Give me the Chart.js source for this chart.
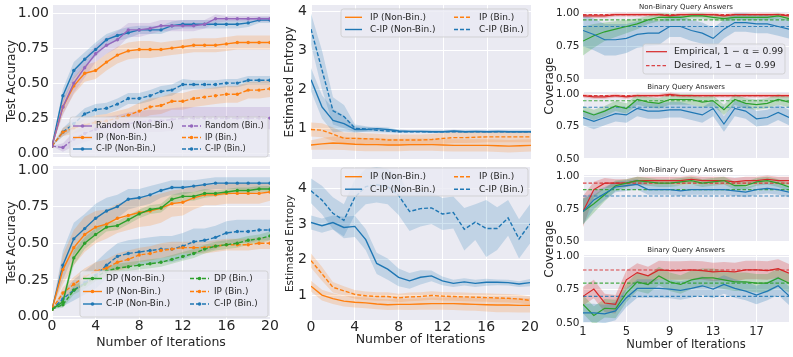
<!DOCTYPE html>
<html>
<head>
<meta charset="utf-8">
<script src="https://cdn.jsdelivr.net/npm/chart.js@4.4.1/dist/chart.umd.min.js"></script>
<style>
  html, body { margin: 0; padding: 0; background: #fff; }
  #fig { position: relative; width: 793px; height: 357px; overflow: hidden; font-family: "DejaVu Sans", sans-serif; }
  #fig canvas { position: absolute; }
  .ylab { position: absolute; transform: translate(-50%, -50%) rotate(-90deg); font-size: 12px; color: #262626; white-space: nowrap; }
</style>
</head>
<body>
<div id="fig"></div>
<script>
// x values and ticks
const ITERS = [0,1,2,3,4,5,6,7,8,9,10,11,12,13,14,15,16,17,18,19,20];
const COV_ITERS = [1,2,3,4,5,6,7,8,9,10,11,12,13,14,15,16,17,18,19,20];
const ITER_TICKS = [0,4,8,12,16,20];
const COV_ITER_TICKS = [1,5,9,13,17];
const ACC_TICKS = [0,0.25,0.5,0.75,1];
const ENT_TICKS = [1,2,3,4];
const COV_TICKS = [0.5,0.75,1];

// legend labels
const ACC_TOP_NAMES = ['Random (Non-Bin.)','Random (Bin.)','IP (Non-Bin.)','IP (Bin.)','C-IP (Non-Bin.)','C-IP (Bin.)'];
const ACC_BOT_NAMES = ['DP (Non-Bin.)','DP (Bin.)','IP (Non-Bin.)','IP (Bin.)','C-IP (Non-Bin.)','C-IP (Bin.)'];
const ENT_NAMES = ['IP (Non-Bin.)','IP (Bin.)','C-IP (Non-Bin.)','C-IP (Bin.)'];
const COV_NAMES = ['Empirical, 1 \u2212 \u03b1 = 0.99','Desired, 1 \u2212 \u03b1 = 0.99'];
const COV_TITLES = ['Non-Binary Query Answers','Binary Query Answers'];

// test accuracy, top panel (mean, band half-width)
const ACC1_RANDOM_NB = [0.05,0.33,0.50,0.61,0.71,0.77,0.81,0.88,0.88,0.89,0.91,0.91,0.91,0.91,0.92,0.96,0.96,0.96,0.96,0.96,0.96];
const ACC1_RANDOM_NB_SD = [0,0.06,0.07,0.07,0.06,0.06,0.06,0.05,0.05,0.04,0.04,0.04,0.04,0.04,0.03,0.03,0.02,0.02,0.02,0.02,0.02];
const ACC1_IP_NB = [0.05,0.33,0.48,0.57,0.59,0.65,0.70,0.73,0.74,0.74,0.74,0.75,0.76,0.77,0.77,0.77,0.78,0.79,0.79,0.79,0.79];
const ACC1_IP_NB_SD = [0,0.05,0.06,0.06,0.06,0.06,0.06,0.06,0.06,0.06,0.05,0.05,0.05,0.05,0.05,0.05,0.05,0.05,0.05,0.05,0.05];
const ACC1_CIP_NB = [0.05,0.41,0.59,0.67,0.74,0.81,0.84,0.86,0.88,0.88,0.88,0.91,0.92,0.92,0.92,0.92,0.92,0.92,0.93,0.95,0.95];
const ACC1_CIP_NB_SD = [0,0.05,0.06,0.05,0.05,0.04,0.04,0.04,0.03,0.03,0.03,0.03,0.03,0.03,0.03,0.03,0.03,0.03,0.03,0.02,0.02];
const ACC1_RANDOM_B = [0.05,0.04,0.10,0.14,0.17,0.19,0.20,0.21,0.22,0.23,0.23,0.24,0.25,0.25,0.25,0.25,0.25,0.25,0.25,0.25,0.25];
const ACC1_RANDOM_B_SD = [0,0.03,0.05,0.06,0.07,0.07,0.07,0.08,0.08,0.08,0.08,0.08,0.08,0.08,0.08,0.08,0.08,0.08,0.08,0.08,0.08];
const ACC1_IP_B = [0.05,0.15,0.18,0.20,0.22,0.23,0.25,0.27,0.30,0.33,0.34,0.37,0.37,0.39,0.40,0.41,0.42,0.42,0.45,0.45,0.46];
const ACC1_IP_B_SD = [0,0.03,0.04,0.04,0.05,0.05,0.05,0.05,0.06,0.06,0.06,0.06,0.06,0.06,0.06,0.06,0.06,0.06,0.06,0.06,0.06];
const ACC1_CIP_B = [0.05,0.15,0.21,0.28,0.31,0.32,0.35,0.39,0.39,0.41,0.44,0.45,0.49,0.49,0.49,0.49,0.50,0.50,0.52,0.52,0.52];
const ACC1_CIP_B_SD = [0,0.03,0.04,0.04,0.04,0.04,0.04,0.04,0.04,0.04,0.04,0.04,0.04,0.03,0.03,0.03,0.03,0.03,0.03,0.03,0.03];

// test accuracy, bottom panel
const ACC2_DP_NB = [0.05,0.10,0.40,0.50,0.56,0.61,0.62,0.66,0.70,0.73,0.74,0.80,0.82,0.82,0.84,0.84,0.85,0.86,0.86,0.87,0.87];
const ACC2_DP_NB_SD = [0,0.02,0.05,0.04,0.04,0.03,0.03,0.03,0.03,0.03,0.03,0.03,0.03,0.03,0.03,0.02,0.02,0.02,0.02,0.02,0.02];
const ACC2_IP_NB = [0.05,0.32,0.47,0.56,0.61,0.63,0.67,0.69,0.71,0.72,0.74,0.77,0.78,0.81,0.83,0.83,0.84,0.84,0.84,0.84,0.85];
const ACC2_IP_NB_SD = [0,0.10,0.12,0.12,0.11,0.10,0.10,0.10,0.10,0.10,0.10,0.09,0.09,0.08,0.07,0.07,0.07,0.07,0.07,0.07,0.06];
const ACC2_CIP_NB = [0.05,0.35,0.53,0.60,0.67,0.72,0.75,0.80,0.81,0.83,0.86,0.88,0.88,0.89,0.90,0.91,0.91,0.91,0.91,0.91,0.91];
const ACC2_CIP_NB_SD = [0,0.10,0.11,0.10,0.10,0.09,0.08,0.07,0.06,0.06,0.05,0.05,0.05,0.04,0.04,0.04,0.04,0.04,0.04,0.04,0.04];
const ACC2_DP_B = [0.05,0.08,0.18,0.22,0.27,0.31,0.33,0.34,0.35,0.36,0.37,0.39,0.41,0.43,0.46,0.48,0.49,0.50,0.52,0.53,0.55];
const ACC2_DP_B_SD = [0,0.02,0.03,0.03,0.03,0.03,0.03,0.03,0.03,0.03,0.03,0.03,0.03,0.03,0.03,0.03,0.03,0.03,0.03,0.03,0.03];
const ACC2_IP_B = [0.05,0.16,0.22,0.27,0.31,0.33,0.37,0.39,0.42,0.43,0.45,0.46,0.47,0.47,0.47,0.48,0.49,0.49,0.49,0.50,0.50];
const ACC2_IP_B_SD = [0,0.04,0.05,0.06,0.06,0.06,0.06,0.06,0.05,0.05,0.05,0.05,0.04,0.04,0.04,0.04,0.04,0.04,0.04,0.04,0.04];
const ACC2_CIP_B = [0.05,0.12,0.18,0.23,0.28,0.35,0.41,0.43,0.44,0.45,0.46,0.46,0.48,0.51,0.52,0.54,0.57,0.58,0.58,0.59,0.59];
const ACC2_CIP_B_SD = [0,0.05,0.07,0.08,0.09,0.09,0.09,0.09,0.09,0.09,0.09,0.09,0.09,0.09,0.08,0.08,0.08,0.08,0.08,0.07,0.07];

// estimated entropy, top panel
const ENT1_IP_NB = [0.57,0.60,0.62,0.61,0.59,0.58,0.58,0.57,0.57,0.58,0.58,0.58,0.57,0.56,0.56,0.56,0.56,0.55,0.54,0.55,0.56];
const ENT1_IP_NB_SD = [0.12,0.15,0.17,0.17,0.17,0.17,0.17,0.16,0.16,0.16,0.16,0.16,0.16,0.16,0.16,0.16,0.16,0.16,0.16,0.16,0.16];
const ENT1_IP_B = [0.97,0.95,0.85,0.74,0.74,0.73,0.72,0.70,0.70,0.70,0.70,0.71,0.74,0.76,0.76,0.77,0.78,0.78,0.78,0.78,0.78];
const ENT1_IP_B_SD = [0.18,0.18,0.17,0.15,0.15,0.14,0.14,0.14,0.14,0.14,0.14,0.14,0.14,0.14,0.14,0.14,0.14,0.14,0.14,0.14,0.14];
const ENT1_CIP_NB = [2.25,1.55,1.20,1.12,0.97,0.97,0.99,0.97,0.93,0.92,0.92,0.91,0.91,0.93,0.91,0.92,0.91,0.92,0.91,0.91,0.91];
const ENT1_CIP_NB_SD = [0.30,0.30,0.30,0.20,0.08,0.06,0.05,0.05,0.04,0.03,0.03,0.03,0.03,0.03,0.03,0.03,0.03,0.03,0.03,0.03,0.03];
const ENT1_CIP_B = [3.55,2.50,1.45,1.30,1.00,0.98,0.95,0.93,0.91,0.91,0.91,0.91,0.91,0.91,0.91,0.91,0.91,0.91,0.91,0.91,0.91];
const ENT1_CIP_B_SD = [0.40,0.50,0.35,0.30,0.10,0.07,0.05,0.04,0.03,0.03,0.03,0.03,0.03,0.03,0.03,0.03,0.03,0.03,0.03,0.03,0.03];

// estimated entropy, bottom panel
const ENT2_IP_NB = [1.25,1.00,0.90,0.83,0.80,0.78,0.75,0.73,0.74,0.74,0.75,0.76,0.76,0.76,0.75,0.74,0.73,0.72,0.72,0.71,0.71];
const ENT2_IP_NB_SD = [0.15,0.15,0.15,0.15,0.15,0.15,0.15,0.15,0.15,0.16,0.16,0.17,0.17,0.18,0.18,0.18,0.19,0.20,0.20,0.20,0.20];
const ENT2_IP_B = [1.97,1.60,1.22,1.12,1.02,0.98,0.96,0.96,0.92,0.95,0.96,0.99,0.97,0.96,0.95,0.94,0.93,0.92,0.91,0.89,0.85];
const ENT2_IP_B_SD = [0.20,0.20,0.15,0.13,0.12,0.12,0.12,0.12,0.12,0.12,0.12,0.12,0.12,0.12,0.12,0.12,0.12,0.12,0.12,0.12,0.12];
const ENT2_CIP_NB = [3.04,2.95,3.04,2.90,2.93,2.56,1.89,1.73,1.50,1.40,1.50,1.54,1.40,1.33,1.37,1.33,1.36,1.36,1.35,1.31,1.35];
const ENT2_CIP_NB_SD = [0.20,0.20,0.20,0.30,0.30,0.30,0.30,0.30,0.25,0.22,0.20,0.15,0.12,0.10,0.10,0.10,0.10,0.08,0.08,0.08,0.10];
const ENT2_CIP_B = [3.93,3.67,3.30,3.10,3.75,4.05,4.10,4.05,3.80,3.35,3.43,3.45,3.28,3.32,2.85,3.05,2.87,2.87,3.17,2.58,3.00];
const ENT2_CIP_B_SD = [0.35,0.40,0.45,0.45,0.50,0.50,0.50,0.50,0.55,0.55,0.50,0.45,0.45,0.45,0.60,0.50,0.80,0.60,0.50,0.55,0.55];

// coverage: red / green / blue empirical curves, and desired levels (red, green, blue)
const COV1_RED = [0.98,0.98,0.98,0.99,0.99,0.99,0.99,0.99,0.98,0.99,0.99,0.99,0.99,0.98,0.99,0.99,0.99,0.99,0.99,0.98];
const COV1_GREEN = [0.79,0.83,0.86,0.88,0.90,0.92,0.95,0.97,0.97,0.97,0.98,0.98,0.97,0.96,0.97,0.97,0.97,0.97,0.98,0.96];
const COV1_GREEN_SD = [0.11,0.09,0.07,0.06,0.05,0.04,0.03,0.03,0.03,0.02,0.02,0.02,0.02,0.02,0.02,0.02,0.02,0.02,0.02,0.02];
const COV1_BLUE = [0.87,0.84,0.80,0.80,0.81,0.84,0.85,0.85,0.90,0.90,0.87,0.85,0.81,0.88,0.93,0.93,0.92,0.92,0.90,0.88];
const COV1_BLUE_SD = [0.12,0.12,0.12,0.12,0.11,0.10,0.10,0.09,0.08,0.08,0.08,0.08,0.08,0.07,0.07,0.07,0.07,0.07,0.07,0.07];
const COV2_RED = [0.99,0.98,0.98,0.99,0.98,0.99,0.99,0.99,1.00,0.99,0.99,0.99,0.99,0.99,0.99,0.99,0.99,0.99,0.99,0.99];
const COV2_GREEN = [0.87,0.84,0.87,0.91,0.89,0.96,0.94,0.93,0.96,0.96,0.96,0.94,0.95,0.88,0.96,0.93,0.92,0.93,0.96,0.94];
const COV2_BLUE = [0.82,0.79,0.82,0.85,0.84,0.89,0.87,0.87,0.88,0.88,0.86,0.84,0.89,0.77,0.89,0.87,0.81,0.82,0.86,0.82];
const COV3_RED = [0.73,0.90,0.95,0.95,0.95,0.97,0.97,0.97,0.97,0.97,0.98,0.97,0.97,0.97,0.96,0.97,0.97,0.98,0.97,0.97];
const COV3_RED_SD = [0.12,0.06,0.04,0.03,0.03,0.03,0.03,0.03,0.03,0.03,0.03,0.03,0.03,0.03,0.03,0.03,0.03,0.03,0.03,0.03];
const COV3_GREEN = [0.73,0.79,0.86,0.93,0.95,0.97,0.96,0.95,0.95,0.96,0.97,0.95,0.96,0.97,0.93,0.93,0.96,0.97,0.95,0.92];
const COV3_GREEN_SD = [0.10,0.07,0.05,0.04,0.03,0.03,0.03,0.03,0.03,0.03,0.03,0.03,0.03,0.03,0.03,0.03,0.03,0.03,0.03,0.03];
const COV3_BLUE = [0.73,0.82,0.87,0.92,0.93,0.94,0.90,0.90,0.90,0.89,0.90,0.90,0.90,0.90,0.89,0.88,0.90,0.91,0.90,0.88];
const COV3_BLUE_SD = [0.10,0.07,0.05,0.04,0.04,0.04,0.04,0.04,0.04,0.04,0.04,0.04,0.04,0.04,0.04,0.04,0.04,0.04,0.04,0.04];
const COV4_RED = [0.70,0.755,0.65,0.64,0.825,0.88,0.855,0.90,0.895,0.895,0.90,0.895,0.885,0.89,0.885,0.90,0.90,0.895,0.91,0.875];
const COV4_GREEN = [0.64,0.555,0.61,0.605,0.725,0.81,0.79,0.855,0.81,0.79,0.825,0.84,0.84,0.825,0.81,0.81,0.80,0.80,0.84,0.80];
const COV4_BLUE = [0.575,0.575,0.567,0.59,0.69,0.76,0.76,0.76,0.755,0.745,0.76,0.78,0.755,0.79,0.76,0.74,0.71,0.74,0.78,0.705];
const COV_TOP_DESIRED = [0.99,0.95,0.90];
const COV_BOT_NB_DESIRED = [0.95,0.90,0.85];
const COV_BOT_B_DESIRED = [0.90,0.80,0.70];

const FONT = '"DejaVu Sans", sans-serif';
const INK = '#262626';
const C = { blue:'#1f77b4', orange:'#ff7f0e', green:'#2ca02c', red:'#d62728', purple:'#9467bd' };
Chart.defaults.font.family = FONT;
Chart.defaults.color = INK;

const fig = document.getElementById('fig');

function rgba(hex, a){
  const n = parseInt(hex.slice(1), 16);
  return `rgba(${n >> 16},${(n >> 8) & 255},${n & 255},${a})`;
}
function pts(xs, ys){ return ys.map((y, i) => ({ x: xs[i], y })); }

// band (lower, upper filled) + mean line
function bandLine(xs, ys, sd, color, st){
  const s = Array.isArray(sd) ? sd : ys.map(() => sd);
  return [
    { data: pts(xs, ys.map((y, i) => y - s[i])), borderWidth: 0, pointRadius: 0, fill: false, order: 10 },
    { data: pts(xs, ys.map((y, i) => y + s[i])), borderWidth: 0, pointRadius: 0, fill: '-1',
      backgroundColor: rgba(color, st.alpha || 0.2), order: 10 },
    { data: pts(xs, ys), borderColor: color, borderWidth: st.lw || 1.4, borderDash: st.dash ? [4, 2] : [],
      pointRadius: st.marker ? 1.7 : 0, pointBorderWidth: 0, pointBackgroundColor: color,
      fill: false, order: 0 }
  ];
}
function desiredLine(level, color){
  return { data: pts(COV_ITERS, COV_ITERS.map(() => level)), borderColor: rgba(color, 0.85), borderWidth: 1.1,
    borderDash: [3.5, 2], pointRadius: 0, fill: false, order: 1 };
}

function drawLegend(ctx, L){
  ctx.save();
  ctx.beginPath();
  ctx.roundRect(L.x, L.y, L.w, L.h, 2.5);
  ctx.fillStyle = 'rgba(234,234,242,0.8)';
  ctx.fill();
  ctx.strokeStyle = 'rgba(204,204,204,0.8)';
  ctx.lineWidth = 1;
  ctx.stroke();
  ctx.font = L.size + 'px ' + FONT;
  ctx.textBaseline = 'middle';
  L.items.forEach(it => {
    const c = L.cols[it.col], y = L.rows[it.row];
    ctx.strokeStyle = it.color;
    ctx.lineWidth = L.lw || 1.4;
    ctx.setLineDash(it.dash ? (L.dashPat || [4, 2]) : []);
    ctx.beginPath(); ctx.moveTo(c[0], y); ctx.lineTo(c[1], y); ctx.stroke();
    ctx.setLineDash([]);
    if (it.marker){
      ctx.fillStyle = it.color;
      ctx.beginPath(); ctx.arc((c[0] + c[1]) / 2, y, 1.8, 0, Math.PI * 2); ctx.fill();
    }
    ctx.fillStyle = INK;
    ctx.fillText(it.label, c[2], y);
  });
  ctx.restore();
}

// g: canvas box (cx,cy,cw,ch) and plot box (pl,pt,pr,pb) in page pixels
function panel(g, datasets, ax, deco){
  const cv = document.createElement('canvas');
  cv.width = g.cw; cv.height = g.ch;
  cv.style.left = g.cx + 'px'; cv.style.top = g.cy + 'px';
  fig.appendChild(cv);
  const yW = g.pl - g.cx, xH = g.cy + g.ch - g.pb;
  const plug = {
    id: 'deco',
    beforeDraw(chart){
      const a = chart.chartArea, ctx = chart.ctx;
      ctx.save(); ctx.fillStyle = '#eaeaf2';
      ctx.fillRect(a.left, a.top, a.right - a.left, a.bottom - a.top); ctx.restore();
    },
    afterDraw(chart){
      const ctx = chart.ctx, a = chart.chartArea;
      ctx.save();
      ctx.translate(-g.cx, -g.cy);
      if (deco && deco.legend) drawLegend(ctx, deco.legend);
      ctx.restore();
      if (deco && deco.title){
        ctx.save();
        ctx.font = '7px ' + FONT; ctx.fillStyle = INK;
        ctx.textAlign = 'center'; ctx.textBaseline = 'bottom';
        ctx.fillText(deco.title, (a.left + a.right) / 2, a.top - 1.5);
        ctx.restore();
      }
    }
  };
  return new Chart(cv, {
    type: 'line',
    data: { datasets },
    options: {
      responsive: false, animation: false, events: [],
      layout: { padding: { left: 0, top: g.pt - g.cy, right: g.cx + g.cw - g.pr, bottom: 0 } },
      plugins: { legend: { display: false }, tooltip: { enabled: false } },
      elements: { line: { tension: 0 } },
      scales: {
        x: {
          type: 'linear', min: ax.xmin, max: ax.xmax,
          afterBuildTicks: s => { s.ticks = ax.xticks.map(v => ({ value: v })); },
          afterFit: s => { s.height = xH; s.paddingLeft = 0; s.paddingRight = 0; },
          grid: { color: '#ffffff', lineWidth: 1, drawTicks: false },
          border: { display: false },
          ticks: { display: !!ax.xTick, font: { size: ax.xTick || 10 }, color: INK, padding: ax.xTickPad || 0,
                   maxRotation: 0, autoSkip: false },
          title: { display: !!ax.xTitle, text: ax.xTitle || '', font: { size: ax.xTitleSize || 12 }, color: INK,
                   padding: { top: 0, bottom: ax.xTitlePad || 0 } }
        },
        y: {
          type: 'linear', min: ax.ymin, max: ax.ymax,
          afterBuildTicks: s => { s.ticks = ax.yticks.map(v => ({ value: v })); },
          afterFit: s => { s.width = yW; s.paddingTop = 0; s.paddingBottom = 0; },
          grid: { color: '#ffffff', lineWidth: 1, drawTicks: false },
          border: { display: false },
          ticks: { font: { size: ax.yTick }, color: INK, padding: ax.yTickPad,
                   callback: v => ax.yDigits ? v.toFixed(ax.yDigits) : String(v) },
          title: { display: !!ax.yTitle, text: ax.yTitle || '', font: { size: ax.yTitleSize || 12 }, color: INK,
                   padding: { top: ax.yTitlePad || 0, bottom: 0 } }
        }
      }
    },
    plugins: [plug]
  });
}

// ---------- test accuracy (left column) ----------
const accAxis = { xmin: 0, xmax: 20, xticks: ITER_TICKS, yticks: ACC_TICKS, yTick: 14, yTickPad: 3, yDigits: 2,
  yTitle: 'Test Accuracy', yTitleSize: 12, yTitlePad: 4.8 };

panel({ cx: 0, cy: 0, cw: 274, ch: 163, pl: 52, pt: 5, pr: 270, pb: 157 }, [
  ...bandLine(ITERS, ACC1_RANDOM_NB, ACC1_RANDOM_NB_SD, C.purple, { marker: true }),
  ...bandLine(ITERS, ACC1_IP_NB, ACC1_IP_NB_SD, C.orange, { marker: true }),
  ...bandLine(ITERS, ACC1_CIP_NB, ACC1_CIP_NB_SD, C.blue, { marker: true }),
  ...bandLine(ITERS, ACC1_RANDOM_B, ACC1_RANDOM_B_SD, C.purple, { marker: true, dash: true }),
  ...bandLine(ITERS, ACC1_IP_B, ACC1_IP_B_SD, C.orange, { marker: true, dash: true }),
  ...bandLine(ITERS, ACC1_CIP_B, ACC1_CIP_B_SD, C.blue, { marker: true, dash: true })
], Object.assign({}, accAxis, { ymin: -0.028, ymax: 1.058 }), {
  legend: { x: 70, y: 117, w: 198, h: 40, size: 8.2, rows: [126, 137.5, 149],
    cols: [[73, 92, 96], [182, 201, 205]],
    items: [
      { col: 0, row: 0, label: ACC_TOP_NAMES[0], color: C.purple, marker: true },
      { col: 1, row: 0, label: ACC_TOP_NAMES[1], color: C.purple, marker: true, dash: true },
      { col: 0, row: 1, label: ACC_TOP_NAMES[2], color: C.orange, marker: true },
      { col: 1, row: 1, label: ACC_TOP_NAMES[3], color: C.orange, marker: true, dash: true },
      { col: 0, row: 2, label: ACC_TOP_NAMES[4], color: C.blue, marker: true },
      { col: 1, row: 2, label: ACC_TOP_NAMES[5], color: C.blue, marker: true, dash: true }
    ] }
});

panel({ cx: 0, cy: 161, cw: 282, ch: 196, pl: 52, pt: 166, pr: 270, pb: 319 }, [
  ...bandLine(ITERS, ACC2_DP_NB, ACC2_DP_NB_SD, C.green, { marker: true }),
  ...bandLine(ITERS, ACC2_IP_NB, ACC2_IP_NB_SD, C.orange, { marker: true }),
  ...bandLine(ITERS, ACC2_CIP_NB, ACC2_CIP_NB_SD, C.blue, { marker: true }),
  ...bandLine(ITERS, ACC2_DP_B, ACC2_DP_B_SD, C.green, { marker: true, dash: true }),
  ...bandLine(ITERS, ACC2_IP_B, ACC2_IP_B_SD, C.orange, { marker: true, dash: true }),
  ...bandLine(ITERS, ACC2_CIP_B, ACC2_CIP_B_SD, C.blue, { marker: true, dash: true })
], Object.assign({}, accAxis, { ymin: -0.017, ymax: 1.027, xTick: 14, xTickPad: -1,
  xTitle: 'Number of Iterations', xTitleSize: 12.5, xTitlePad: 6.5 }), {
  legend: { x: 80, y: 271, w: 188, h: 46, size: 8.8, rows: [278.5, 291.5, 304],
    cols: [[83, 102, 106], [190, 209, 214]],
    items: [
      { col: 0, row: 0, label: ACC_BOT_NAMES[0], color: C.green, marker: true },
      { col: 1, row: 0, label: ACC_BOT_NAMES[1], color: C.green, marker: true, dash: true },
      { col: 0, row: 1, label: ACC_BOT_NAMES[2], color: C.orange, marker: true },
      { col: 1, row: 1, label: ACC_BOT_NAMES[3], color: C.orange, marker: true, dash: true },
      { col: 0, row: 2, label: ACC_BOT_NAMES[4], color: C.blue, marker: true },
      { col: 1, row: 2, label: ACC_BOT_NAMES[5], color: C.blue, marker: true, dash: true }
    ] }
});

// ---------- estimated entropy (middle column) ----------
const entAxis = { xmin: 0, xmax: 20, xticks: ITER_TICKS, yticks: ENT_TICKS, yTick: 14, yTickPad: 4 };
function entLegend(y, rows){
  return { x: 341, y: y, w: 187, h: 28, size: 9, rows: rows, lw: 1.4,
    cols: [[345, 362, 370], [454, 471, 479]],
    items: [
      { col: 0, row: 0, label: ENT_NAMES[0], color: C.orange },
      { col: 1, row: 0, label: ENT_NAMES[1], color: C.orange, dash: true },
      { col: 0, row: 1, label: ENT_NAMES[2], color: C.blue },
      { col: 1, row: 1, label: ENT_NAMES[3], color: C.blue, dash: true }
    ] };
}

panel({ cx: 272, cy: 0, cw: 264, ch: 164, pl: 311, pt: 5, pr: 531, pb: 159 }, [
  ...bandLine(ITERS, ENT1_IP_NB, ENT1_IP_NB_SD, C.orange, {}),
  ...bandLine(ITERS, ENT1_CIP_NB, ENT1_CIP_NB_SD, C.blue, {}),
  ...bandLine(ITERS, ENT1_IP_B, ENT1_IP_B_SD, C.orange, { dash: true }),
  ...bandLine(ITERS, ENT1_CIP_B, ENT1_CIP_B_SD, C.blue, { dash: true })
], Object.assign({}, entAxis, { ymin: 0.21, ymax: 4.17, yTitle: 'Estimated Entropy', yTitleSize: 12, yTitlePad: 11 }),
{ legend: entLegend(9, [17.3, 29.5]) });

panel({ cx: 272, cy: 161, cw: 270, ch: 196, pl: 311, pt: 167, pr: 530, pb: 320 }, [
  ...bandLine(ITERS, ENT2_IP_NB, ENT2_IP_NB_SD, C.orange, {}),
  ...bandLine(ITERS, ENT2_CIP_NB, ENT2_CIP_NB_SD, C.blue, {}),
  ...bandLine(ITERS, ENT2_IP_B, ENT2_IP_B_SD, C.orange, { dash: true }),
  ...bandLine(ITERS, ENT2_CIP_B, ENT2_CIP_B_SD, C.blue, { dash: true })
], Object.assign({}, entAxis, { ymin: 0.30, ymax: 4.60, yTitle: 'Estimated Entropy', yTitleSize: 10.5, yTitlePad: 11.7,
  xTick: 14, xTickPad: -1, xTitle: 'Number of Iterations', xTitleSize: 12.5, xTitlePad: 9.5 }),
{ legend: entLegend(168, [176.7, 189.2]) });

// ---------- coverage (right column) ----------
const covAxis = { xmin: 1, xmax: 20, xticks: COV_ITER_TICKS, yticks: COV_TICKS, yTick: 10.5, yTickPad: 3.5, yDigits: 2 };
function covSets(red, green, blue, sds, desired){
  return [
    ...bandLine(COV_ITERS, blue, sds[2], C.blue, { lw: 1.2, alpha: 0.25 }),
    ...bandLine(COV_ITERS, green, sds[1], C.green, { lw: 1.2, alpha: 0.25 }),
    ...bandLine(COV_ITERS, red, sds[0], C.red, { lw: 1.2, alpha: 0.25 }),
    desiredLine(desired[0], C.red), desiredLine(desired[1], C.green), desiredLine(desired[2], C.blue)
  ];
}

panel({ cx: 535, cy: 0, cw: 258, ch: 86, pl: 583, pt: 12, pr: 789, pb: 80 },
  covSets(COV1_RED, COV1_GREEN, COV1_BLUE, [0.015, COV1_GREEN_SD, COV1_BLUE_SD], COV_TOP_DESIRED),
  Object.assign({}, covAxis, { ymin: 0.495, ymax: 1.01 }), {
  title: COV_TITLES[0],
  legend: { x: 643, y: 44, w: 142, h: 30, size: 9.3, rows: [51.7, 65.7], lw: 1.2, dashPat: [3.5, 2],
    cols: [[646, 667, 674]],
    items: [
      { col: 0, row: 0, label: COV_NAMES[0], color: C.red },
      { col: 0, row: 1, label: COV_NAMES[1], color: rgba(C.red, 0.85), dash: true }
    ] }
});
panel({ cx: 535, cy: 82, cw: 258, ch: 84, pl: 583, pt: 92, pr: 789, pb: 159 },
  covSets(COV2_RED, COV2_GREEN, COV2_BLUE, [0.015, 0.04, 0.06], COV_TOP_DESIRED),
  Object.assign({}, covAxis, { ymin: 0.4985, ymax: 1.018 }), { title: COV_TITLES[1] });
panel({ cx: 535, cy: 163, cw: 258, ch: 86, pl: 583, pt: 175, pr: 789, pb: 242 },
  covSets(COV3_RED, COV3_GREEN, COV3_BLUE, [COV3_RED_SD, COV3_GREEN_SD, COV3_BLUE_SD], COV_BOT_NB_DESIRED),
  Object.assign({}, covAxis, { ymin: 0.494, ymax: 1.013 }), { title: COV_TITLES[0] });
panel({ cx: 535, cy: 245, cw: 258, ch: 112, pl: 583, pt: 255, pr: 789, pb: 323 },
  covSets(COV4_RED, COV4_GREEN, COV4_BLUE, [0.07, 0.07, 0.07], COV_BOT_B_DESIRED),
  Object.assign({}, covAxis, { ymin: 0.4985, ymax: 1.013, xTick: 11.5, xTickPad: 2.4,
    xTitle: 'Number of Iterations', xTitleSize: 11.5, xTitlePad: 5 }), { title: COV_TITLES[1] });

// shared "Coverage" labels
[[549, 85.5], [549, 248.5]].forEach(([x, y]) => {
  const d = document.createElement('div');
  d.className = 'ylab';
  d.textContent = 'Coverage';
  d.style.left = x + 'px'; d.style.top = y + 'px';
  fig.appendChild(d);
});
</script>
</body>
</html>
